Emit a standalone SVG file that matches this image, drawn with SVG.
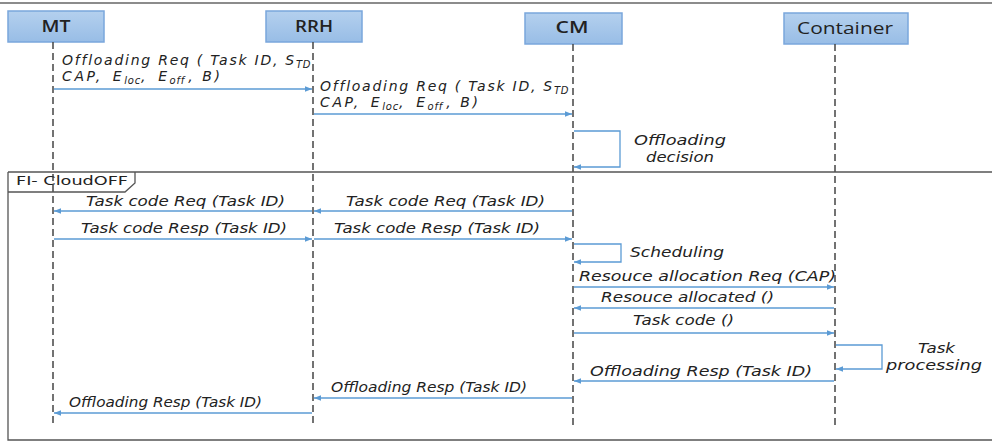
<svg xmlns="http://www.w3.org/2000/svg" width="992" height="443" viewBox="0 0 992 443">
  <defs>
    <linearGradient id="hdr" x1="0" y1="0" x2="0" y2="1">
      <stop offset="0" stop-color="#b4d0ee"/>
      <stop offset="1" stop-color="#98bde6"/>
    </linearGradient>
    <marker id="ah" viewBox="0 0 10 10" refX="10" refY="5" markerWidth="7" markerHeight="7" orient="auto" markerUnits="userSpaceOnUse">
      <path d="M0,1 L10,5 L0,9 z" fill="#5b9bd5"/>
    </marker>
  </defs>
  <style>
    .box { fill: url(#hdr); stroke: #7aa7dc; stroke-width: 1.5; }
    .hdr { font-family: "Open Sans", "Noto Sans", sans-serif; font-size: 17px; font-weight: 600; fill: #222; text-anchor: middle; }
    .life { stroke: #444; stroke-width: 1.5; stroke-dasharray: 7 4; fill: none; }
    .msg { stroke: #5b9bd5; stroke-width: 1.3; fill: none; marker-end: url(#ah); }
    .lbl { font-family: "DejaVu Sans", "Noto Sans", sans-serif; font-size: 14px; font-style: italic; fill: #222; }
    .big { letter-spacing: 1.75px; }
    .wide { letter-spacing: 2.6px; }
    .frame { fill: none; stroke: #555; stroke-width: 1.3; }
    .sub { font-size: 10px; letter-spacing: 0.8px; }
  </style>

  <rect width="992" height="443" fill="#ffffff"/>
  <line x1="0" y1="3" x2="992" y2="3" stroke="#666" stroke-width="1.3"/>

  <!-- participants -->
  <g id="mt">
    <rect class="box" x="8" y="11" width="96" height="31"/>
    <text class="hdr" x="56" y="32" textLength="29" lengthAdjust="spacingAndGlyphs">MT</text>
    <line class="life" x1="53" y1="42" x2="53" y2="424"/>
  </g>
  <g id="rrh">
    <rect class="box" x="266" y="11" width="96" height="31"/>
    <text class="hdr" x="314" y="32" textLength="38" lengthAdjust="spacingAndGlyphs">RRH</text>
    <line class="life" x1="313" y1="42" x2="313" y2="426"/>
  </g>
  <g id="cm">
    <rect class="box" x="525" y="13" width="97" height="31"/>
    <text class="hdr" x="572" y="33" textLength="33" lengthAdjust="spacingAndGlyphs">CM</text>
    <line class="life" x1="573" y1="44" x2="573" y2="426"/>
  </g>
  <g id="container">
    <rect class="box" x="784" y="13" width="124" height="31"/>
    <text class="hdr" x="845" y="34" style="font-weight:500" textLength="96" lengthAdjust="spacingAndGlyphs">Container</text>
    <line class="life" x1="835" y1="44" x2="835" y2="426"/>
  </g>

  <!-- combined fragment -->
  <g id="frame">
    <path class="frame" d="M8,172 H992 M8,172 V440 H992"/>
    <path class="frame" d="M8,192 H125 L135,183 V172"/>
    <text class="lbl" x="16" y="185" style="font-style:normal;font-size:13px" textLength="112" lengthAdjust="spacingAndGlyphs">FI- CloudOFF</text>
  </g>

  <!-- messages -->
  <g id="connectors">
    <line class="msg" x1="54" y1="89" x2="312" y2="89"/>
    <line class="msg" x1="314" y1="114" x2="572" y2="114"/>
    <path class="msg" d="M574,131 H620 V167 H574"/>
    <line class="msg" x1="572" y1="211" x2="314" y2="211"/>
    <line class="msg" x1="312" y1="211" x2="54" y2="211"/>
    <line class="msg" x1="54" y1="239" x2="312" y2="239"/>
    <line class="msg" x1="314" y1="239" x2="572" y2="239"/>
    <path class="msg" d="M574,244 H621 V262 H574"/>
    <line class="msg" x1="574" y1="287" x2="834" y2="287"/>
    <line class="msg" x1="834" y1="308" x2="574" y2="308"/>
    <line class="msg" x1="574" y1="333" x2="834" y2="333"/>
    <path class="msg" d="M836,345 H882 V369 H836"/>
    <line class="msg" x1="834" y1="381" x2="574" y2="381"/>
    <line class="msg" x1="572" y1="398" x2="314" y2="398"/>
    <line class="msg" x1="312" y1="413" x2="54" y2="413"/>
  </g>

  <!-- message labels -->
  <g id="labels">
    <text class="lbl big" x="62" y="65">Offloading Req ( Task ID, S<tspan class="sub" baseline-shift="-3">TD</tspan></text>
    <text class="lbl wide" x="62" y="81">CAP, <tspan dx="3">E</tspan><tspan class="sub" baseline-shift="-3">loc</tspan>, <tspan dx="3">E</tspan><tspan class="sub" baseline-shift="-3">off</tspan><tspan dx="3">, B)</tspan></text>
    <text class="lbl big" x="320" y="91">Offloading Req ( Task ID, S<tspan class="sub" baseline-shift="-3">TD</tspan></text>
    <text class="lbl wide" x="320" y="107">CAP, <tspan dx="3">E</tspan><tspan class="sub" baseline-shift="-3">loc</tspan>, <tspan dx="3">E</tspan><tspan class="sub" baseline-shift="-3">off</tspan><tspan dx="3">, B)</tspan></text>
    <text class="lbl" x="634" y="145" textLength="92" lengthAdjust="spacingAndGlyphs">Offloading</text>
    <text class="lbl" x="646" y="162" textLength="68" lengthAdjust="spacingAndGlyphs">decision</text>
    <text class="lbl" x="86" y="206" textLength="199" lengthAdjust="spacingAndGlyphs">Task code Req (Task ID)</text>
    <text class="lbl" x="346" y="206" textLength="199" lengthAdjust="spacingAndGlyphs">Task code Req (Task ID)</text>
    <text class="lbl" x="81" y="233" textLength="206" lengthAdjust="spacingAndGlyphs">Task code Resp (Task ID)</text>
    <text class="lbl" x="334" y="233" textLength="206" lengthAdjust="spacingAndGlyphs">Task code Resp (Task ID)</text>
    <text class="lbl" x="630" y="257" textLength="94" lengthAdjust="spacingAndGlyphs">Scheduling</text>
    <text class="lbl" x="579" y="281" textLength="257" lengthAdjust="spacingAndGlyphs">Resouce allocation Req (CAP)</text>
    <text class="lbl" x="601" y="302" textLength="173" lengthAdjust="spacingAndGlyphs">Resouce allocated ()</text>
    <text class="lbl" x="633" y="325" textLength="101" lengthAdjust="spacingAndGlyphs">Task code ()</text>
    <text class="lbl" x="918" y="353" textLength="37" lengthAdjust="spacingAndGlyphs">Task</text>
    <text class="lbl" x="886" y="370" textLength="96" lengthAdjust="spacingAndGlyphs">processing</text>
    <text class="lbl" x="590" y="376" textLength="222" lengthAdjust="spacingAndGlyphs">Offloading Resp (Task ID)</text>
    <text class="lbl" x="331" y="392" textLength="196" lengthAdjust="spacingAndGlyphs">Offloading Resp (Task ID)</text>
    <text class="lbl" x="69" y="407" textLength="193" lengthAdjust="spacingAndGlyphs">Offloading Resp (Task ID)</text>
  </g>
</svg>
